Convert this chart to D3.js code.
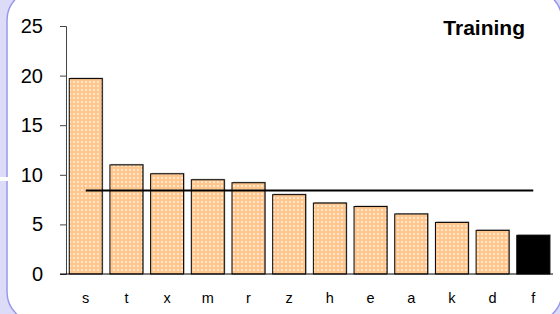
<!DOCTYPE html>
<html>
<head>
<meta charset="utf-8">
<script src="https://cdn.jsdelivr.net/npm/d3@7"></script>
<style>
  html, body { margin: 0; padding: 0; background: #dcdcf8; }
  svg { display: block; font-family: "Liberation Sans", Arial, sans-serif; }
</style>
</head>
<body>
<div id="chart"></div>
<script>
const categories = ['s', 't', 'x', 'm', 'r', 'z', 'h', 'e', 'a', 'k', 'd', 'f']
const values = [19.7, 11.0, 10.1, 9.5, 9.2, 8.0, 7.15, 6.8, 6.05, 5.2, 4.4, 3.9]
const yTicks = [0, 5, 10, 15, 20, 25]
const title = 'Training'
const highlighted = 'f'

const width = 560, height = 314

const svg = d3.select('#chart').append('svg')
    .attr('width', width)
    .attr('height', height)

// dotted peach fill for the bars
const defs = svg.append('defs')
const pattern = defs.append('pattern')
    .attr('id', 'dots')
    .attr('patternUnits', 'userSpaceOnUse')
    .attr('width', 4)
    .attr('height', 4)
pattern.append('rect')
    .attr('width', 4).attr('height', 4)
    .attr('fill', '#ffc68e')
pattern.append('circle')
    .attr('cx', 2).attr('cy', 2).attr('r', 1)
    .attr('fill', '#fff')
    .attr('opacity', 0.75)

// lavender background + white rounded panel
svg.append('rect')
    .attr('width', width).attr('height', height)
    .attr('fill', '#dcdcf8')
svg.append('rect')
    .attr('x', 7).attr('y', -10)
    .attr('width', 555).attr('height', 332)
    .attr('rx', 30).attr('ry', 30)
    .attr('fill', '#fff')
    .attr('stroke', '#9898ec')
    .attr('stroke-width', 1.5)
svg.append('rect')
    .attr('x', 0).attr('y', 177)
    .attr('width', 8).attr('height', 4)
    .attr('fill', '#fff')

const x = d3.scaleBand()
    .domain(categories)
    .range([66, 553])
    .paddingInner(0.19)
    .paddingOuter(0.08)

const y = d3.scaleLinear()
    .domain([0, 25])
    .range([274, 26])

// y axis
const yAxis = svg.append('g')
    .attr('transform', 'translate(66,0)')
    .call(d3.axisLeft(y).tickValues(yTicks).tickSize(6).tickPadding(17))
yAxis.select('.domain').attr('stroke', '#444')
yAxis.selectAll('.tick line').attr('stroke', '#444')
yAxis.selectAll('.tick text')
    .attr('font-size', 20)
    .attr('fill', '#000')
    .attr('font-family', '"Liberation Sans", Arial, sans-serif')

// bars, with a faint shadow behind
svg.selectAll('.shadow')
    .data(categories)
  .enter().append('rect')
    .attr('class', 'shadow')
    .attr('x', d => x(d) + 1)
    .attr('y', (d, i) => y(values[i]) - 1)
    .attr('width', x.bandwidth())
    .attr('height', (d, i) => y(0) - y(values[i]))
    .attr('fill', '#aaa')

svg.selectAll('.bar')
    .data(categories)
  .enter().append('rect')
    .attr('class', 'bar')
    .attr('x', d => x(d))
    .attr('y', (d, i) => y(values[i]))
    .attr('width', x.bandwidth())
    .attr('height', (d, i) => y(0) - y(values[i]))
    .attr('fill', d => d === highlighted ? '#000' : 'url(#dots)')
    .attr('stroke', '#000')
    .attr('stroke-width', 1)

// x axis line (no ticks)
svg.append('line')
    .attr('x1', 60).attr('x2', 553)
    .attr('y1', y(0)).attr('y2', y(0))
    .attr('stroke', '#000')
    .attr('stroke-width', 1.2)

svg.selectAll('.cat')
    .data(categories)
  .enter().append('text')
    .attr('class', 'cat')
    .attr('x', d => x(d) + x.bandwidth() / 2)
    .attr('y', 303)
    .attr('text-anchor', 'middle')
    .attr('font-size', 14.5)
    .text(d => d)

// average line across the bars
const avg = d3.mean(values)
svg.append('line')
    .attr('x1', x(categories[0]) + x.bandwidth() / 2)
    .attr('x2', x(categories[categories.length - 1]) + x.bandwidth() / 2)
    .attr('y1', y(avg)).attr('y2', y(avg))
    .attr('stroke', '#000')
    .attr('stroke-width', 2)

svg.append('text')
    .attr('x', 525)
    .attr('y', 35)
    .attr('text-anchor', 'end')
    .attr('font-size', 21)
    .attr('font-weight', 'bold')
    .text(title)
</script>
</body>
</html>
